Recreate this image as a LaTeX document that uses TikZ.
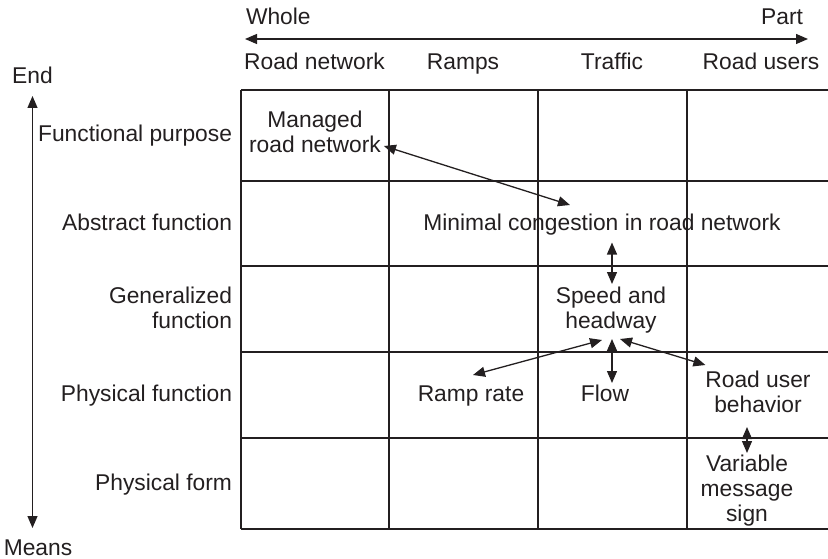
\documentclass[tikz,border=0pt]{standalone}
\usepackage{fontspec}
\setmainfont{Liberation Sans}
\usetikzlibrary{arrows.meta,calc}
\definecolor{ink}{HTML}{231F20}
\newcommand\mlc[1]{\begin{tabular}[t]{@{}c@{}}#1\end{tabular}}
\newcommand\mlr[1]{\begin{tabular}[t]{@{}r@{}}#1\end{tabular}}
\begin{document}
\begin{tikzpicture}[x=1pt,y=-1pt,
  every node/.style={inner sep=0pt,outer sep=0pt,text=ink,font=\fontsize{22.8}{25}\selectfont},
  lbl/.style={anchor=base},
  rowlbl/.style={anchor=base east},
  grid/.style={draw=ink,line width=1.3pt},
  dbl/.style={draw=ink,line width=1.3pt,{Triangle[length=12pt,width=10pt]}-{Triangle[length=12pt,width=10pt]}}]
\useasboundingbox (0,0) rectangle (828,559);
% grid
\foreach \yy in {90,181,266,352,438,529} \draw[grid] (241,\yy) -- (828,\yy);
\foreach \xx in {241,389,538,687} \draw[grid] (\xx,90) -- (\xx,529);
% axes labels
\node[anchor=base west] (whole) at (246,25) {Whole};
\node[anchor=base east] (part) at (803,25) {Part};
\draw[dbl] ([shift={(-1,14)}]whole.base west) -- ([shift={(5,14)}]part.base east);
\node[lbl] (hroad) at (314.5,70) {Road network};
\node[lbl] (hramps) at (463,70) {Ramps};
\node[lbl] (htraffic) at (612,70) {Traffic};
\node[lbl] (husers) at (761,70) {Road users};
\node[lbl] (endl) at (32.5,84) {End};
\node[lbl] (means) at (38,555) {Means};
\draw[dbl] ($(endl.base)+(0,12)$) -- ($(endl.base |- means.base)+(0,-27)$);
% row labels
\node[rowlbl] (rfp) at (232,142) {Functional purpose};
\node[rowlbl] (raf) at (232,230) {Abstract function};
\node[rowlbl] (rgf) at (232,303) {\mlr{Generalized\\function}};
\node[rowlbl] (rphf) at (232,401) {Physical function};
\node[rowlbl] (rpf) at (232,490) {Physical form};
% contents
\node[lbl] (managed) at (315,128) {\mlc{Managed\\road network}};
\node[lbl] (minimal) at (602,230) {\mlc{Minimal congestion in road network}};
\node[lbl] (speed) at (611,303) {\mlc{Speed and\\headway}};
\node[lbl] (ramp) at (471,401) {\mlc{Ramp rate}};
\node[lbl] (flow) at (605,401) {\mlc{Flow}};
\node[lbl] (roaduser) at (758,387) {\mlc{Road user\\behavior}};
\node[lbl] (vms) at (747,471) {\mlc{Variable\\message\\sign}};
% connectors
\draw[dbl] ([shift={(3,18)}]managed.base east) -- ($(minimal.north)+(-32,-7.5)$);
\draw[dbl] ($(speed.north |- minimal.south)+(1,5)$) -- ($(speed.north)+(1,-1.5)$);
\draw[dbl] ($(speed.south)+(-9,4.5)$) -- ($(ramp.north)+(2,-8.5)$);
\draw[dbl] ($(speed.south)+(1,3.5)$) -- ($(speed.south |- flow.north)+(1,-0.5)$);
\draw[dbl] ($(speed.south)+(9,3.5)$) -- ($(roaduser.north west)+(0,-4.5)$);
\draw[dbl] ($(vms.north |- roaduser.south)+(0,7.5)$) -- ($(vms.north)+(0,-0.5)$);
\end{tikzpicture}
\end{document}
